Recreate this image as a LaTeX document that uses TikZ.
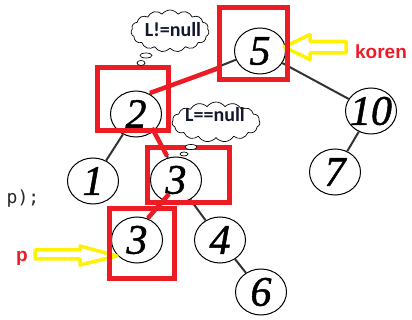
\documentclass[tikz,border=0pt]{standalone}
\usepackage{fontspec}
\setmainfont{Liberation Serif}
\newfontface\keyface{Liberation Serif Italic}[FakeBold=1.2]
\newfontfamily\calloutfont{Carlito}
\newfontfamily\tagfont{Liberation Sans}
\newfontfamily\codefont{DejaVu Sans Mono}
\usetikzlibrary{shapes.geometric,shapes.symbols}
\definecolor{markred}{RGB}{237,28,36}
\definecolor{markyellow}{RGB}{255,242,0}
\definecolor{calloutink}{RGB}{20,24,45}

\begin{document}
\begin{tikzpicture}[x=1pt,y=-1pt,
  keynode/.style={ellipse, draw=black, line width=1pt, fill=white,
    minimum width=51pt, minimum height=46pt, inner sep=0pt},
  keytext/.style={font=\keyface\fontsize{42}{44}\selectfont, inner sep=0pt},
  link/.style={line width=2pt, draw=black!80},
  markbox/.style={draw=markred, line width=4.5pt},
  markline/.style={draw=markred, line width=4.5pt},
  pointer/.style={draw=markyellow, line width=3.5pt, fill=white, line join=round},
  thought/.style={cloud, cloud puffs=15, cloud puff arc=110, cloud ignores aspect,
    draw=black, line width=0.7pt, fill=white, inner sep=0pt},
  puff/.style={ellipse, draw=black, line width=0.7pt, fill=white, inner sep=0pt},
  thoughttext/.style={font=\calloutfont\bfseries\fontsize{20}{22}\selectfont,
    text=calloutink, inner sep=0pt},
  tag/.style={font=\tagfont\bfseries\fontsize{19}{21}\selectfont, text=markred, inner sep=0pt},
]
\useasboundingbox (0,0) rectangle (412,320);
\fill[white] (0,0) rectangle (412,320);

% tail of a code line
\node[font=\codefont\fontsize{18}{20}\selectfont, text=black!85, inner sep=0pt] (code) at (23,199) {p);};

% tree keys
\node[keynode, label={[keytext]center:5}]  (n5)  at (260,51)  {};
\node[keynode, label={[keytext]center:2}]  (n2)  at (136,114) {};
\node[keynode, label={[keytext]center:10}] (n10) at (371,111) {};
\node[keynode, label={[keytext]center:1}]  (n1)  at (93,181)  {};
\node[keynode, label={[keytext]center:3}]  (n3)  at (176,180) {};
\node[keynode, label={[keytext]center:7}]  (n7)  at (335,172) {};
\node[keynode, label={[keytext]center:3}]  (n3b) at (137,240) {};
\node[keynode, label={[keytext]center:4}]  (n4)  at (220,240) {};
\node[keynode, label={[keytext]center:6}]  (n6)  at (261,292) {};

% tree edges
\draw[link] (n5.200) -- (n2.56);
\draw[link] (n5) -- (n10);
\draw[link] (n2) -- (n1);
\draw[link] (n2.-44) -- (n3.110);
\draw[link] (n3.-122) -- (n3b.64);
\draw[link] (n3) -- (n4);
\draw[link] (n4) -- (n6);
\draw[link] (n10) -- (n7);

% yellow pointers
\draw[pointer] (284,47) -- (310,34.5) -- (310,41.5) -- (346,41.5) -- (346,53)
  -- (310,53) -- (310,59.5) -- cycle;
\draw[pointer] (117,256) -- (80,246) -- (80,250) -- (35,250) -- (35,259)
  -- (80,259) -- (80,265) -- cycle;

% visited nodes framed in red
\draw[markbox] (219.5,7.5) rectangle (287.5,79.5);
\draw[markbox] (97.5,67.5) rectangle (168.5,130.5);
\draw[markbox] (147.5,147.5) rectangle (229.5,202.5);
\draw[markbox] (109.5,208.5) rectangle (174.5,278.5);

% search path
\coordinate (p1a) at (219,68);
\coordinate (p1b) at (150,93);
\coordinate (p2a) at (152,128);
\coordinate (p2b) at (167,156);
\coordinate (p3a) at (169,194);
\coordinate (p3b) at (148,218);
\draw[markline] (p1a) -- (p1b);
\draw[markline] (p2a) -- (p2b);
\draw[markline] (p3a) -- (p3b);

% thought bubbles
\node[thought, minimum width=78pt, minimum height=42pt] (c1) at (170,31) {};
\node[puff, minimum width=12pt, minimum height=5pt] (c1a) at (146,55.5) {};
\node[puff, minimum width=8pt, minimum height=5pt] (c1b) at (141,63) {};
\node[thoughttext] (t1) at (173,30) {L!=null};

\node[thought, minimum width=88pt, minimum height=40pt] (c2) at (216,122) {};
\node[puff, minimum width=12pt, minimum height=5pt] (c2a) at (191,147) {};
\node[puff, minimum width=8pt, minimum height=4pt] (c2b) at (184,154) {};
\node[thoughttext] (t2) at (215,115) {L==null};

% labels
\node[tag] (koren) at (381,51.5) {koren};
\node[tag] (ptag) at (22,258.5) {p};
\end{tikzpicture}
\end{document}
